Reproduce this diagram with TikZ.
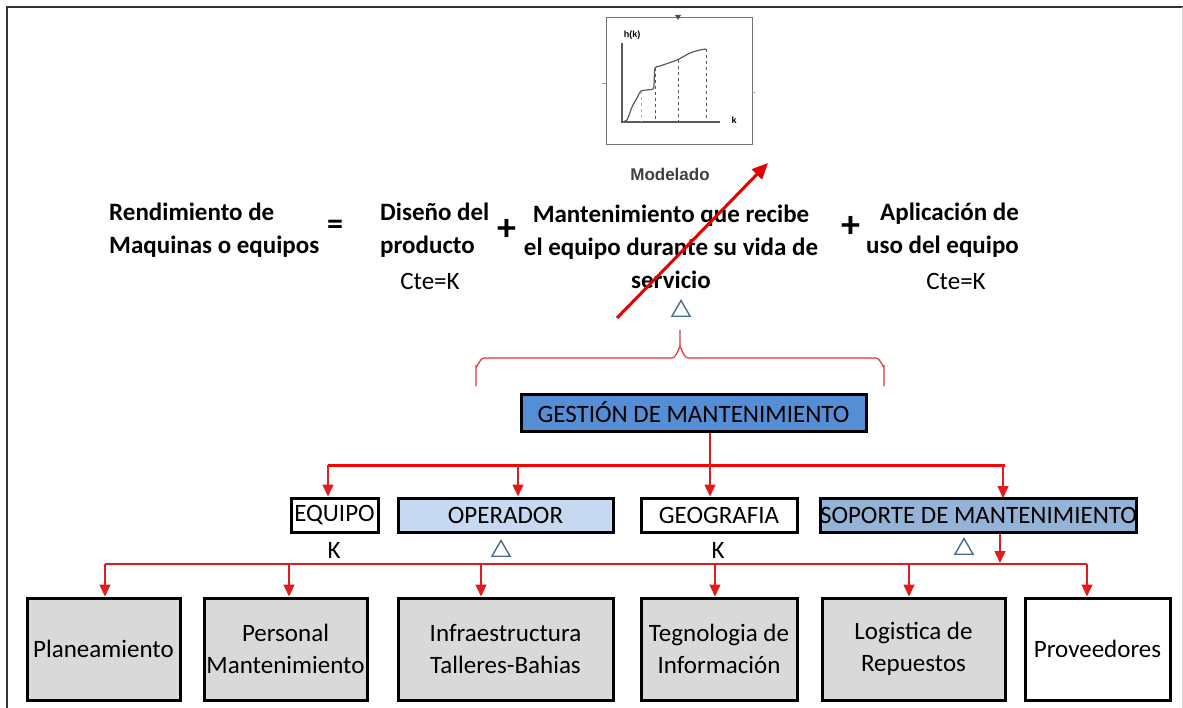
\documentclass[tikz,border=0pt]{standalone}
\usepackage{fontspec}
\setmainfont{Carlito}
\newfontfamily\arialfont{Liberation Sans}
\usepackage{xcolor}
\usetikzlibrary{arrows.meta,shapes.geometric}
\definecolor{gestblue}{HTML}{558ED5}
\definecolor{opblue}{HTML}{C6D9F1}
\definecolor{sopblue}{HTML}{95B3D7}
\definecolor{boxgray}{HTML}{D9D9D9}
\definecolor{deltablue}{HTML}{4A6A8E}
\definecolor{arrowred}{HTML}{E31B1B}
\begin{document}
\begin{tikzpicture}[x=1pt, y=-1pt,
  box/.style={rectangle, draw, line width=3pt, inner sep=0pt, minimum height=34pt, align=center, font=\fontsize{25}{32}\selectfont},
  low box/.style={box, fill=boxgray, minimum height=102pt},
  bold text/.style={align=left, font=\bfseries\fontsize{25}{33}\selectfont, inner sep=0pt},
  plain text/.style={font=\fontsize{25}{32}\selectfont, inner sep=0pt},
  sign/.style={font=\bfseries\fontsize{38}{38}\selectfont, inner sep=0pt},
  delta/.style={regular polygon, regular polygon sides=3, draw=deltablue, line width=1.4pt, minimum size=21pt, inner sep=0pt},
  arrow/.style={-{Triangle[length=12pt,width=11pt]}, arrowred, line width=1.5pt},
  bus/.style={red, line width=3pt}]
\useasboundingbox (0,0) rectangle (1183,708);
\draw[line width=2.5pt, black!80] (7,708) -- (7,7) -- (1183,7);
\draw[black!15, line width=1pt] (1182,7) -- (1182,708);

\draw[black!55, line width=1pt] (606,18) rectangle (752,145);
\fill[black!70] (675,15) -- (681,15) -- (678,20) -- cycle;
\draw[black!40] (602,83) -- (606,83) (752,92) -- (755,92);
\node[font=\arialfont\bfseries\fontsize{9}{9}\selectfont, inner sep=0pt] (hk) at (632,35) {h(k)};
\node[font=\arialfont\bfseries\fontsize{9}{9}\selectfont, inner sep=0pt] (kk) at (734,120) {k};
\draw[black!65, line width=1.2pt] (622,43) -- (622,122) -- (720,122);
\draw[black!65, line width=1.2pt] plot[smooth, tension=0.4] coordinates {(622,122) (627,120) (632,107) (637,98) (641,91) (647,90) (653,89) (654,85) (655,68) (660,66) (677,60) (690,53) (700,50) (706,49)};
\draw[black!30, dashed, line width=1pt] (641,91) -- (641,122);
\draw[black!65, dashed, line width=1pt] (655,68) -- (655,122) (678,60) -- (678,122) (706,49) -- (706,122);
\node[font=\arialfont\bfseries\fontsize{17}{17}\selectfont, text=black!75, inner sep=0pt] (mod) at (670,174) {Modelado};

\node[bold text, anchor=west] (r) at (109,230) {Rendimiento de\\Maquinas o equipos};
\node[sign, font=\bfseries\fontsize{32}{32}\selectfont] (eq) at (335,227) {=};
\node[bold text, anchor=west] (d) at (380,230) {Diseño del\\producto};
\node[plain text] (c1) at (430,281) {Cte=K};
\node[sign] (p1) at (507,230) {+};
\node[bold text, align=center] (m) at (671,247) {Mantenimiento que recibe\\el equipo durante su vida de\\servicio};
\node[sign] (p2) at (851,227) {+};
\node[bold text, align=right, anchor=east] (ap) at (1019,230) {Aplicación de\\uso del equipo};
\node[plain text] (c2) at (956,281) {Cte=K};

\node[delta] (t0) at (681,311) {};
\coordinate (tip) at (680,330);
\draw[arrowred!90, line width=1.2pt] (476,386) -- (476,366) to[out=-90,in=180] (484,358) -- (672,358) to[out=0,in=90] (680,348) -- (tip) (680,348) to[out=90,in=180] (688,358) -- (876,358) to[out=0,in=-90] (884,366) -- (884,386);
\coordinate (s) at (617,318);
\coordinate (e) at (768,163);
\draw[-{Triangle[length=16pt,width=14pt]}, red!90!black, line width=3pt] (s) -- (e);

\node[box, fill=gestblue, minimum width=345pt, minimum height=37pt] (1) at (693.5,412.5) {GESTIÓN DE MANTENIMIENTO};
\node[box, fill=white, minimum width=87pt] (2) at (334.5,515) {EQUIPO};
\node[box, fill=opblue, minimum width=215pt] (3) at (505.5,515) {OPERADOR};
\node[box, fill=white, minimum width=156pt] (4) at (719,515) {GEOGRAFIA};
\node[box, fill=sopblue, minimum width=313pt] (5) at (978.5,515) {SOPORTE DE MANTENIMIENTO};
\node[plain text] (k1) at (334,550) {K};
\node[delta] (t1) at (501,551) {};
\node[plain text] (k2) at (718,550) {K};
\node[delta] (t2) at (964,549) {};

\node[low box, minimum width=153pt] (6) at (103.5,649) {Planeamiento};
\node[low box, minimum width=163pt] (7) at (285.5,649) {Personal\\Mantenimiento};
\node[low box, minimum width=215pt] (8) at (505.5,649) {Infraestructura\\Talleres-Bahias};
\node[low box, minimum width=156pt] (9) at (719,649) {Tegnologia de\\Información};
\node[low box, minimum width=183pt] (10) at (913.5,649) {Logistica de\\Repuestos};
\node[low box, fill=white, minimum width=145pt] (11) at (1097.5,649) {Proveedores};

\coordinate (a1) at (328,465);
\coordinate (a2) at (518,465);
\coordinate (a3) at (710,465);
\coordinate (a4) at (1005,465);
\draw[bus] (a1) -- (a4);
\path[arrow]
(a1) edge (a1 |- 2.north)
(a2) edge (a2 |- 3.north)
(1.south -| a3) edge (a3 |- 4.north)
(1003,465) edge (1003,498);

\coordinate (b1) at (105,564);
\coordinate (b2) at (289,564);
\coordinate (b3) at (481,564);
\coordinate (b4) at (715,564);
\coordinate (b5) at (909,564);
\coordinate (b6) at (1087,564);
\draw[arrowred, line width=1.5pt] (b1) -- (b6);
\path[arrow]
(5.south -| 1000,0) edge (1000,563)
(b1) edge (b1 |- 6.north)
(b2) edge (b2 |- 7.north)
(b3) edge (b3 |- 8.north)
(b4) edge (b4 |- 9.north)
(b5) edge (b5 |- 10.north)
(b6) edge (b6 |- 11.north);
\end{tikzpicture}
\end{document}
